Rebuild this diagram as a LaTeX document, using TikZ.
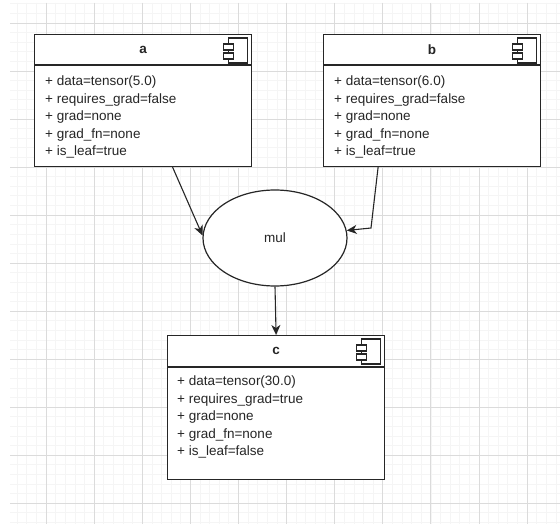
\documentclass[tikz,border=0pt]{standalone}
\usepackage{fontspec}
\setmainfont{Liberation Sans}
\usetikzlibrary{arrows.meta,calc,shapes.geometric}

\tikzset{
  tensorbox/.style={draw=black!85, line width=1.2pt, fill=white, anchor=north west,
    minimum width=217pt, inner sep=0pt},
  boxtitle/.style={font=\fontsize{13.5}{16}\selectfont\bfseries, text=black!85},
  fields/.style={anchor=north west, align=left, inner sep=0pt, text=black!85,
    font=\fontsize{13.5}{17.5}\selectfont},
  opnode/.style={ellipse, draw=black!85, line width=1.2pt, fill=white,
    minimum width=144pt, minimum height=96pt, inner sep=0pt,
    font=\fontsize{13.5}{16}\selectfont, text=black!85},
  edge/.style={-{Stealth[length=10pt,width=9pt,inset=3pt]}, line width=1.1pt, black!85},
  icon/.style={draw=black!85, line width=1.1pt},
  minorgrid/.style={black!4, line width=0.6pt},
  majorgrid/.style={black!14, line width=0.8pt},
}

% header line and component icon of a tensor box
\newcommand{\boxhead}[2]{%
  \draw[draw=black!85, line width=1.2pt] ($(#1.north west)+(0,#2)$) -- ($(#1.north east)+(0,#2)$);
  \draw[icon] ($(#1.north east)+(-24,4)$) rectangle ++(19,25);
  \draw[icon,fill=white] ($(#1.north east)+(-29,10)$) rectangle ++(10,6);
  \draw[icon,fill=white] ($(#1.north east)+(-29,19)$) rectangle ++(10,6);
}

\begin{document}
\begin{tikzpicture}[x=1pt,y=-1pt]
  \useasboundingbox (0,0) rectangle (560,524);
  \fill[white] (0,0) rectangle (560,524);

  %grid
  \begin{scope}
    \clip (10,3) rectangle (560,524);
    \foreach \i in {0,...,57} \draw[minorgrid] ({7.52+9.62*\i},3) -- ++(0,521);
    \foreach \i in {0,...,54} \draw[minorgrid] (10,{3.8+9.6*\i}) -- ++(550,0);
    \foreach \i in {0,...,10} \draw[majorgrid] ({46+48.1*\i},3) -- ++(0,521);
    \foreach \i in {0,...,10} \draw[majorgrid] (10,{23+48*\i}) -- ++(550,0);
  \end{scope}

  %leaf tensors a and b
  \node[tensorbox, minimum height=132pt] (a) at (34,34) {};
  \boxhead{a}{31}
  \node[boxtitle] (atitle) at ($(a.north)+(0,15.5)$) {a};
  \node[fields] (afields) at ($(a.north west)+(11,42)$)
    {+ data=tensor(5.0)\\+ requires\_grad=false\\+ grad=none\\+ grad\_fn=none\\+ is\_leaf=true};

  \node[tensorbox, minimum height=132pt] (b) at (323,34) {};
  \boxhead{b}{31}
  \node[boxtitle] (btitle) at ($(b.north)+(0,15.5)$) {b};
  \node[fields] (bfields) at ($(b.north west)+(11,42)$)
    {+ data=tensor(6.0)\\+ requires\_grad=false\\+ grad=none\\+ grad\_fn=none\\+ is\_leaf=true};

  %operation
  \node[opnode] (mul) at (275,238) {mul};

  %result tensor c
  \node[tensorbox, minimum height=144pt] (c) at (167,335) {};
  \boxhead{c}{32}
  \node[boxtitle] (ctitle) at ($(c.north)+(0,16)$) {c};
  \node[fields] (cfields) at ($(c.north west)+(10,41)$)
    {+ data=tensor(30.0)\\+ requires\_grad=true\\+ grad=none\\+ grad\_fn=none\\+ is\_leaf=false};

  %edges
  \coordinate (bbend) at (371,228);
  \draw[edge] ([xshift=29.5pt]a.south) -- (mul.178);
  \draw[edge] ([xshift=-54pt]b.south) -- (bbend) -- (mul.6);
  \draw[edge] (mul.south) -- (c.north);
\end{tikzpicture}
\end{document}
